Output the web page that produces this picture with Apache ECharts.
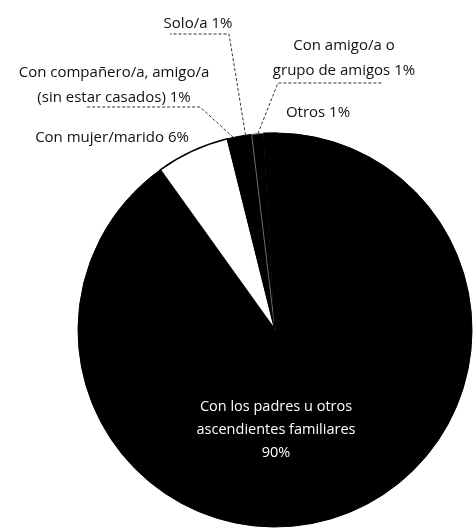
<!DOCTYPE html>
<html>
<head>
<meta charset="utf-8">
<script src="https://cdn.jsdelivr.net/npm/echarts@6/dist/echarts.min.js"></script>
<style>
  html, body { margin: 0; padding: 0; background: #fff; }
  #chart { width: 475px; height: 530px; }
</style>
</head>
<body>
<div id="chart"></div>
<script>
// Convivencia: con quién vive (porcentaje)
const categories = [
  'Con los padres u otros\nascendientes familiares',
  'Con mujer/marido',
  'Con compañero/a, amigo/a\n(sin estar casados)',
  'Solo/a',
  'Con amigo/a o\ngrupo de amigos',
  'Otros'
];
const values = [90, 6, 1, 1, 1, 1];
const sliceColors = ['#000000', '#ffffff', '#000000', '#000000', '#000000', '#000000'];
const sliceBorders = ['#000000', '#000000', '#000000', '#000000', '#6a6a6a', '#000000'];
const sliceBorderWidths = [1, 1.5, 1, 1, 1, 1.4];

// Label placement and leader-line bends (pixel layout)
const labelPos = [
  { x: 276, y: 430 },
  { x: 112, y: 138 },
  { x: 114, y: 85 },
  { x: 198, y: 24 },
  { x: 344, y: 58 },
  { x: 318, y: 113 }
];
const leaderBends = {
  2: [[200, 107], [85, 107]],
  3: [[229, 34], [170, 34]],
  4: [[278, 83], [382, 83]]
};

const chart = echarts.init(document.getElementById('chart'));

const seriesData = categories.map((name, i) => {
  const item = {
    name: name,
    value: values[i],
    itemStyle: {
      color: sliceColors[i],
      borderColor: sliceBorders[i],
      borderWidth: sliceBorderWidths[i]
    },
    labelLine: { show: !!leaderBends[i] }
  };
  if (i === 0) {
    item.label = {
      color: '#ffffff',
      fontSize: 14.5,
      lineHeight: 23,
      formatter: '{b}\n{c}%'
    };
  }
  return item;
});

chart.setOption({
  animation: false,
  backgroundColor: '#ffffff',
  series: [{
    type: 'pie',
    center: [275, 330],
    radius: 197,
    startAngle: 89.6,
    clockwise: true,
    avoidLabelOverlap: false,
    emphasis: { disabled: true },
    data: seriesData,
    label: {
      show: true,
      position: 'outside',
      formatter: '{b} {c}%',
      fontFamily: '"Open Sans", sans-serif',
      fontSize: 15,
      lineHeight: 25,
      color: '#111',
      align: 'center'
    },
    labelLine: {
      length: 20,
      length2: 20,
      lineStyle: { color: '#333', width: 1, type: [3, 2] }
    },
    labelLayout: function (p) {
      const pos = labelPos[p.dataIndex];
      const out = { x: pos.x, y: pos.y, align: 'center', verticalAlign: 'middle' };
      const bends = leaderBends[p.dataIndex];
      if (bends && p.labelLinePoints) {
        out.labelLinePoints = [p.labelLinePoints[0]].concat(bends);
      }
      return out;
    }
  }]
});
</script>
</body>
</html>
